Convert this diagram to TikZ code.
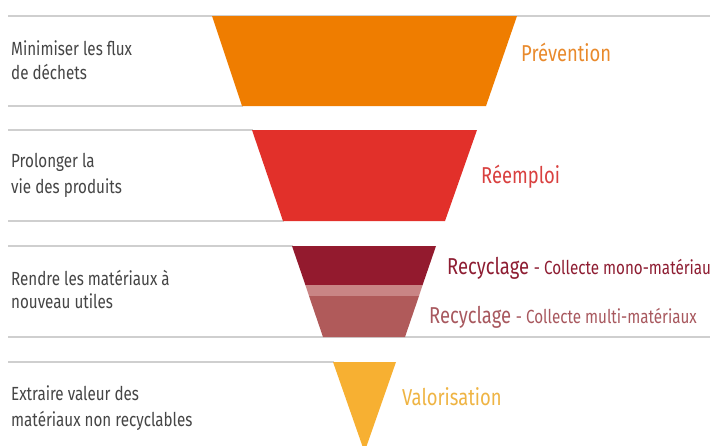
\documentclass[tikz,border=0pt]{standalone}
\usepackage{fontspec}
\setmainfont{Fira Sans}[FakeStretch=0.8]
\definecolor{cOrange}{HTML}{EF7D00}
\definecolor{cRed}{HTML}{E2302A}
\definecolor{cDark}{HTML}{931A2E}
\definecolor{cStripe}{HTML}{C98585}
\definecolor{cLow}{HTML}{B05A5A}
\definecolor{cYellow}{HTML}{F7B032}
\definecolor{tOrange}{HTML}{E98A2C}
\definecolor{tRed}{HTML}{D9403F}
\definecolor{tDark}{HTML}{8E1D32}
\definecolor{tLow}{HTML}{A8585E}
\definecolor{tYellow}{HTML}{EFB443}
\definecolor{tGray}{HTML}{454545}
\definecolor{cLine}{HTML}{CFCFCF}
\tikzset{
  rule/.style={draw=cLine, line width=1.4pt},
  lefttxt/.style={anchor=base west, inner sep=0pt, text=tGray, font=\fontsize{19}{24}\selectfont},
  bigtxt/.style={anchor=base west, inner sep=0pt, font=\fontsize{23}{28}\selectfont},
}
\newcommand{\smalltxt}{\fontsize{19}{22}\selectfont}
\begin{document}
\begin{tikzpicture}[x=1pt,y=-1pt]
\clip (0,0) rectangle (710,445);
\fill[white] (0,0) rectangle (710,445);
% rules
\draw[rule] (8,16) -- (710,16);
\draw[rule] (8,106) -- (243,106);
\draw[rule] (8,130) -- (253,130);
\draw[rule] (8,221) -- (284,221);
\draw[rule] (8,246) -- (293,246);
\draw[rule] (8,337) -- (710,337);
\draw[rule] (8,362) -- (334,362);
% funnel
\fill[cOrange] (212,16) -- (517,16) -- (486,106) -- (242,106) -- cycle;
\fill[cRed] (252,130) -- (477,130) -- (445,221) -- (283,221) -- cycle;
\fill[cDark] (292,246) -- (436,246) -- (422.6,285) -- (305.4,285) -- cycle;
\fill[cStripe] (305.4,285) -- (422.6,285) -- (419,296) -- (309,296) -- cycle;
\fill[cLow] (309,296) -- (419,296) -- (405,337) -- (323,337) -- cycle;
\fill[cYellow] (333,362) -- (396,362) -- (364.5,452) -- cycle;
% left labels
\node[lefttxt] (l1a) at (11,55) {Minimiser les flux};
\node[lefttxt] (l1b) at (11,79) {de déchets};
\node[lefttxt] (l2a) at (11,167) {Prolonger la};
\node[lefttxt] (l2b) at (11,193) {vie des produits};
\node[lefttxt] (l3a) at (11,285) {Rendre les matériaux à};
\node[lefttxt] (l3b) at (11,308.5) {nouveau utiles};
\node[lefttxt] (l4a) at (11,400) {Extraire valeur des};
\node[lefttxt] (l4b) at (11,426) {matériaux non recyclables};
% right labels
\node[bigtxt, text=tOrange] (r1) at (521,61) {Prévention};
\node[bigtxt, text=tRed] (r2) at (481,183) {Réemploi};
\node[bigtxt, text=tDark] (r3) at (447,274.5) {Recyclage {\smalltxt- Collecte mono-matériaux}};
\node[bigtxt, text=tLow] (r4) at (429,323.5) {Recyclage {\smalltxt- Collecte multi-matériaux}};
\node[bigtxt, text=tYellow] (r5) at (402,405) {Valorisation};
\end{tikzpicture}
\end{document}
